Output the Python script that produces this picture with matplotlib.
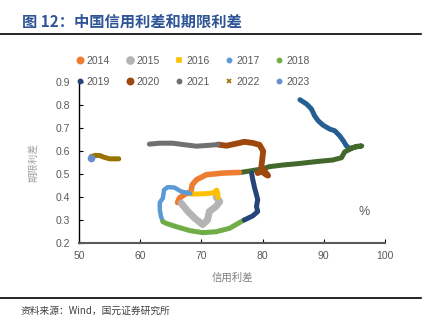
import matplotlib
matplotlib.use('Agg')
import matplotlib.pyplot as plt
from matplotlib.lines import Line2D

plt.rcParams['font.family'] = ['Liberation Sans', 'Noto Sans CJK SC', 'DejaVu Sans']
CJK = ['Noto Sans CJK SC', 'DejaVu Sans']

# credit spread (x) vs term spread (y), one path per year
x_2012 = [86.1, 87.2, 88.0, 88.5, 89.1, 89.9, 91.0, 91.8, 92.6, 93.2, 93.7, 94.3]
y_2012 = [0.823, 0.804, 0.782, 0.753, 0.731, 0.712, 0.695, 0.688, 0.666, 0.644, 0.622, 0.610]
x_2013 = [94.3, 95.3, 96.2, 94.8, 93.4, 92.9, 91.5, 88.8, 86.1, 83.3, 81.1, 80.1, 77.9, 76.2]
y_2013 = [0.610, 0.620, 0.622, 0.615, 0.596, 0.571, 0.561, 0.554, 0.546, 0.539, 0.532, 0.523, 0.513, 0.506]
x_2014 = [76.2, 73.5, 70.8, 69.2, 68.5, 68.3, 67.2, 66.4, 66.1]
y_2014 = [0.507, 0.504, 0.497, 0.475, 0.453, 0.424, 0.410, 0.395, 0.376]
x_2015 = [66.7, 67.8, 68.9, 70.2, 71.0, 71.3, 72.4, 73.0, 72.4]
y_2015 = [0.373, 0.337, 0.308, 0.280, 0.300, 0.337, 0.359, 0.380, 0.400]
x_2016 = [72.7, 72.7, 72.5, 72.0, 71.0, 70.0, 69.0, 68.2]
y_2016 = [0.398, 0.415, 0.430, 0.418, 0.415, 0.414, 0.413, 0.413]
x_2017 = [68.2, 66.7, 65.6, 64.5, 63.9, 63.7, 63.2, 63.2, 63.4, 63.7]
y_2017 = [0.415, 0.424, 0.441, 0.443, 0.431, 0.395, 0.376, 0.344, 0.315, 0.293]
x_2018 = [63.7, 64.2, 65.9, 68.1, 70.2, 72.4, 74.6, 76.5, 77.0]
y_2018 = [0.293, 0.286, 0.271, 0.254, 0.245, 0.249, 0.264, 0.293, 0.300]
x_2019 = [77.0, 78.4, 79.2, 79.0, 79.2, 79.0, 78.7, 78.4, 78.2]
y_2019 = [0.300, 0.318, 0.337, 0.359, 0.388, 0.410, 0.439, 0.475, 0.504]
x_2020 = [79.2, 79.8, 80.6, 80.9, 80.4, 79.8, 79.9, 80.1, 79.5, 78.4, 77.0, 76.2, 74.1, 72.7]
y_2020 = [0.504, 0.511, 0.497, 0.493, 0.510, 0.530, 0.555, 0.599, 0.627, 0.635, 0.640, 0.635, 0.623, 0.628]
x_2021 = [72.7, 70.8, 69.2, 67.0, 65.3, 63.2, 61.5]
y_2021 = [0.628, 0.624, 0.621, 0.628, 0.634, 0.634, 0.630]
x_2022 = [52.0, 52.7, 53.4, 54.2, 55.0, 56.5]
y_2022 = [0.576, 0.581, 0.580, 0.572, 0.566, 0.566]
x_2023 = [52.0]
y_2023 = [0.570]

years = ['2012', '2013', '2014', '2015', '2016', '2017', '2018', '2019', '2020', '2021', '2022', '2023']
xs = [x_2012, x_2013, x_2014, x_2015, x_2016, x_2017, x_2018, x_2019, x_2020, x_2021, x_2022, x_2023]
ys = [y_2012, y_2013, y_2014, y_2015, y_2016, y_2017, y_2018, y_2019, y_2020, y_2021, y_2022, y_2023]
colors = ['#255E91', '#43682B', '#ED7D31', '#B4B4B4', '#FFC000', '#5B9BD5', '#70AD47',
          '#264478', '#9E480E', '#707070', '#997300', '#698ED0']
widths = [3.6, 3.6, 4.0, 5.0, 3.6, 3.2, 3.6, 3.6, 4.2, 3.6, 3.6, 3.6]
markers = [None, None, 'o', 'o', 's', 'o', 'o', 'o', 'o', 'o', 'x', 'o']
msizes = [0, 0, 4.5, 5, 2.5, 3, 3, 3, 4.5, 3, 2.5, 3]

fig = plt.figure(figsize=(4.36, 3.3), dpi=100)
ax = fig.add_axes([0.1812, 0.2636, 0.7018, 0.4879])

handles = []
for yr, x, y, c, w, m, ms in zip(years, xs, ys, colors, widths, markers, msizes):
    if len(x) == 1:
        ax.plot(x, y, 'o', color=c, ms=4.5, zorder=3)
    else:
        ax.plot(x, y, '-', color=c, lw=w, solid_capstyle='round', solid_joinstyle='round')
    if m is not None:
        handles.append(Line2D([], [], ls='none', marker=m, color=c, ms=ms, mew=1.2, label=yr))

# legend fills column-wise, so interleave to read row-wise
order = [0, 5, 1, 6, 2, 7, 3, 8, 4, 9]
handles = [handles[i] for i in order]

ax.set_xlim(50, 100)
ax.set_ylim(0.2, 0.9)
ax.set_xticks([50, 60, 70, 80, 90, 100])
ax.set_yticks([0.2, 0.3, 0.4, 0.5, 0.6, 0.7, 0.8, 0.9])
ax.set_yticklabels(['0.2', '0.3', '0.4', '0.5', '0.6', '0.7', '0.8', '0.9'])
ax.tick_params(direction='in', length=3, width=0.8, labelsize=7.5, labelcolor='#595959')
ax.tick_params(axis='y', pad=6.5)
ax.tick_params(axis='x', pad=6)
for s in ['top', 'right']:
    ax.spines[s].set_visible(False)
ax.spines['left'].set_color('black')
ax.spines['left'].set_linewidth(1.0)
ax.spines['bottom'].set_color('#595959')
ax.spines['bottom'].set_linewidth(1.5)

ax.set_xlabel('信用利差', family=CJK, fontsize=7.5, color='#7F7F7F', labelpad=8)
ax.set_ylabel('期限利差', family=CJK, fontsize=7, color='#A0A0A0', labelpad=12)
ax.text(96.6, 0.335, '%', fontsize=9, color='#595959', ha='center', va='center')

fig.legend(handles=handles, ncol=5, frameon=False, fontsize=7.5, labelcolor='#595959',
           loc='upper left', bbox_to_anchor=(75.5 / 436, 1 - 56 / 330),
           borderpad=0, borderaxespad=0, handlelength=0.8, handletextpad=0.25,
           columnspacing=1.5, labelspacing=1.05)

fig.text(0.05, 1 - 21.5 / 330, '图 12：中国信用利差和期限利差', family=CJK, fontsize=11,
         fontweight='bold', color='#2F5597', ha='left', va='center')
fig.add_artist(Line2D([0, 421 / 436], [1 - 34.3 / 330] * 2, color='black', lw=1.2))
fig.add_artist(Line2D([0, 421 / 436], [1 - 297.7 / 330] * 2, color='black', lw=1.2))
fig.text(0.047, 1 - 311 / 330, '资料来源：Wind，国元证券研究所', family=CJK, fontsize=7,
         color='#404040', ha='left', va='center')

fig.savefig('out.png', dpi=100)
